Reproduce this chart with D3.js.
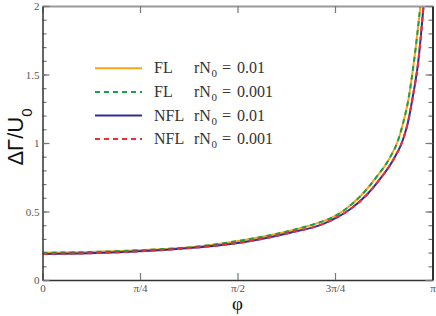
<!DOCTYPE html>
<html>
<head>
<meta charset="utf-8">
<script src="https://cdn.jsdelivr.net/npm/d3@7"></script>
<style>
  body { margin: 0; background: #fff; }
  svg { display: block; }
</style>
</head>
<body>
<svg width="436" height="316"></svg>
<script>
var WIDTH = 436
var HEIGHT = 316

// phi in units of pi, values of dGamma/U0
var flPhi  = [0, 0.1, 0.248, 0.394, 0.506, 0.635, 0.72, 0.742, 0.776, 0.818, 0.857, 0.888, 0.912, 0.925, 0.938, 0.953, 0.969];
var flVals = [0.199, 0.203, 0.217, 0.243, 0.287, 0.36, 0.43, 0.455, 0.515, 0.62, 0.754, 0.88, 1.022, 1.15, 1.314, 1.606, 2.0];
var nflPhi  = [0, 0.1, 0.248, 0.378, 0.506, 0.635, 0.72, 0.754, 0.788, 0.831, 0.87, 0.9, 0.924, 0.937, 0.948, 0.964, 0.977];
var nflVals = [0.19, 0.194, 0.209, 0.233, 0.272, 0.345, 0.41, 0.455, 0.515, 0.62, 0.754, 0.88, 1.022, 1.15, 1.314, 1.606, 2.0];

var xTicks = [0, 0.25, 0.5, 0.75, 1];
var xTickLabels = ["0", "\u03c0/4", "\u03c0/2", "3\u03c0/4", "\u03c0"];
var yTicks = [0, 0.5, 1, 1.5, 2];
var yTickLabels = ["0", "0.5", "1", "1.5", "2"];
var yMinor = d3.range(0, 2.001, 0.1).map(function (d) { return +d.toFixed(1); });

var seriesNames = ["FL", "FL", "NFL", "NFL"];
var seriesParams = ["0.01", "0.001", "0.01", "0.001"];
var seriesColors = ["#f9a51a", "#1aa04b", "#2e3192", "#ee2e35"];
var seriesDash = [null, "5,4", null, "5,4"];
var seriesData = [[flPhi, flVals], [flPhi, flVals], [nflPhi, nflVals], [nflPhi, nflVals]];

var svg = d3.select("svg");

var x = d3.scaleLinear().domain([0, 1]).range([42.5, 432.5]);
var y = d3.scaleLinear().domain([0, 2]).range([280, 6]);

svg.append("clipPath").attr("id", "clip")
    .append("rect")
    .attr("x", x(0)).attr("y", y(2))
    .attr("width", x(1) - x(0)).attr("height", y(0) - y(2));

// curves
var line = d3.line()
    .x(function (d) { return x(d[0]); })
    .y(function (d) { return y(d[1]); })
    .curve(d3.curveMonotoneX);

seriesData.forEach(function (s, i) {
    var pts = s[0].map(function (p, j) { return [p, s[1][j]]; });
    svg.append("path")
        .attr("clip-path", "url(#clip)")
        .attr("d", line(pts))
        .attr("fill", "none")
        .attr("stroke", seriesColors[i])
        .attr("stroke-width", 2)
        .attr("stroke-dasharray", seriesDash[i]);
});

// axes, ticks pointing inward
var tickFont = "Liberation Serif";

var bottomAxis = svg.append("g")
    .attr("transform", "translate(0," + y(0) + ")")
    .call(d3.axisBottom(x).tickValues(xTicks)
        .tickFormat(function (d, i) { return xTickLabels[i]; })
        .tickSizeInner(-7).tickSizeOuter(0).tickPadding(4));

var topAxis = svg.append("g")
    .attr("transform", "translate(0," + y(2) + ")")
    .call(d3.axisTop(x).tickValues(xTicks).tickFormat("")
        .tickSizeInner(-7).tickSizeOuter(0));

var leftMinor = svg.append("g")
    .attr("transform", "translate(" + x(0) + ",0)")
    .call(d3.axisLeft(y).tickValues(yMinor).tickFormat("")
        .tickSizeInner(-4).tickSizeOuter(0));

var rightMinor = svg.append("g")
    .attr("transform", "translate(" + x(1) + ",0)")
    .call(d3.axisRight(y).tickValues(yMinor).tickFormat("")
        .tickSizeInner(-4).tickSizeOuter(0));

var leftAxis = svg.append("g")
    .attr("transform", "translate(" + x(0) + ",0)")
    .call(d3.axisLeft(y).tickValues(yTicks)
        .tickFormat(function (d, i) { return yTickLabels[i]; })
        .tickSizeInner(-7).tickSizeOuter(0).tickPadding(3));

var rightAxis = svg.append("g")
    .attr("transform", "translate(" + x(1) + ",0)")
    .call(d3.axisRight(y).tickValues(yTicks).tickFormat("")
        .tickSizeInner(-7).tickSizeOuter(0));

[bottomAxis, topAxis, leftMinor, rightMinor, leftAxis, rightAxis].forEach(function (g) {
    g.selectAll(".tick line").attr("stroke", "#777").attr("stroke-width", 1.2);
    g.selectAll("text")
        .attr("fill", "#555")
        .style("font-family", tickFont)
        .style("font-size", "11px");
});
leftMinor.select(".domain").remove();
rightMinor.select(".domain").remove();
topAxis.select(".domain").attr("stroke", "#999").attr("stroke-width", 2);
bottomAxis.select(".domain").attr("stroke", "#333").attr("stroke-width", 1.5);
leftAxis.select(".domain").attr("stroke", "#333").attr("stroke-width", 1.5);
rightAxis.select(".domain").attr("stroke", "#333").attr("stroke-width", 2);

// axis titles
svg.append("text")
    .attr("transform", "translate(23," + 137 + ") rotate(-90)")
    .attr("text-anchor", "middle")
    .style("font-family", "Liberation Sans")
    .style("font-size", "22px")
    .attr("fill", "#111")
    .text("\u0394\u0393/U")
    .append("tspan")
    .attr("baseline-shift", "sub")
    .style("font-size", "15px")
    .text("0");

svg.append("text")
    .attr("x", x(0.5))
    .attr("y", 310)
    .attr("text-anchor", "middle")
    .style("font-family", "Liberation Serif")
    .style("font-size", "19px")
    .attr("fill", "#111")
    .text("\u03c6");

// legend
var legend = svg.append("g")
    .style("font-family", "Liberation Serif")
    .style("font-size", "16px");
seriesNames.forEach(function (name, i) {
    var ly = 68.3 + i * 23.6;
    legend.append("line")
        .attr("x1", 95).attr("x2", 142)
        .attr("y1", ly).attr("y2", ly)
        .attr("stroke", seriesColors[i])
        .attr("stroke-width", 2)
        .attr("stroke-dasharray", seriesDash[i]);
    legend.append("text")
        .attr("x", 154).attr("y", ly + 5)
        .attr("fill", "#333")
        .text(name);
    var t = legend.append("text")
        .attr("y", ly + 5)
        .attr("fill", "#333");
    t.append("tspan").attr("x", 194).text("rN");
    t.append("tspan").attr("x", 211.5).attr("dy", 4).style("font-size", "11px").text("0");
    t.append("tspan").attr("x", 222).attr("dy", -4).text("=");
    t.append("tspan").attr("x", 237).text(seriesParams[i]);
});
</script>
</body>
</html>
